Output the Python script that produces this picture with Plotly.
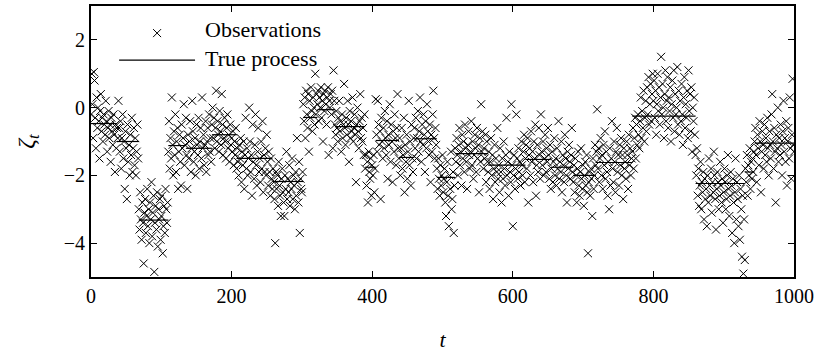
import numpy as np
import plotly.graph_objects as go

# Observed values, one per time step t = 0, 1, 2, ...
observations = [
    -0.2, 1.0, 0.1, -0.9, 1.05, 0.8, -0.3, -1.2, 0.3, -0.6, 0.0, -0.4, -1.5, -0.1, 0.4, -0.7, -0.3, -1.0, -0.2, -0.5,
    -0.8, 0.2, -0.4, -1.3, -0.6, -0.1, -0.9, -0.5, -1.6, -0.3, -0.7, -1.1, -0.2, -0.8, -1.9, -0.5, -1.2, -0.6, -0.9, 0.2,
    -0.6, -1.3, -0.4, -1.8, -0.9, -0.2, -1.5, -1.0, -2.4, -0.7, -1.2, -2.7, -0.5, -1.6, -1.1, -2.0, -0.8, -1.4, -0.3, -1.9,
    -1.2, -0.6, -1.7, -0.9, -2.0, -1.3, -0.5, -1.5, -3.0, -3.6, -2.5, -3.3, -3.9, -2.8, -3.4, -4.6, -3.1, -2.7, -3.7, -3.2,
    -2.4, -3.5, -3.0, -4.0, -2.8, -3.3, -2.2, -3.8, -3.1, -2.6, -4.85, -3.4, -2.9, -3.6, -2.5, -4.1, -3.0, -3.3, -2.7, -3.9,
    -3.2, -2.6, -4.3, -3.5, -2.9, -3.7, -2.4, -3.0, -3.4, -2.8, -1.3, -0.4, -1.8, -0.9, -1.5, 0.3, -1.1, -2.0, -0.7, -1.4,
    -0.2, -1.9, -1.0, -0.6, -2.4, -1.3, -0.8, -1.6, -2.3, -0.5, -1.2, -0.9, 0.1, -1.7, -1.1, -0.3, -1.4, -2.4, -0.8, -1.5,
    -1.0, -0.4, -1.9, -1.2, 0.2, -0.7, -1.6, -1.3, -0.9, -2.0, -0.5, -1.1, -1.4, -0.3, -1.8, -1.0, -0.6, -1.5, 0.3, -1.2,
    -0.8, -1.7, -1.1, -0.4, -1.9, -1.0, -0.6, -1.4, -0.2, -1.3, -0.9, -1.6, -0.5, 0.0, -0.9, -0.3, -1.2, -0.6, 0.5, -1.0,
    -0.4, -0.8, -1.3, -0.1, -0.7, -1.1, 0.4, -0.5, -1.4, -0.9, -0.3, -1.0, -1.5, -0.6, -0.2, -1.2, -0.8, -1.6, -0.5, -1.1,
    -0.9, -1.3, -0.7, -1.7, -1.0, -1.4, -0.6, -1.8, -1.2, -1.6, -2.0, -1.1, -1.5, -0.9, -2.2, -1.3, -1.7, -1.0, -2.4, -1.4,
    -0.3, -1.8, -1.2, -2.0, -1.5, 0.0, -1.0, -1.9, -1.4, -2.6, -0.5, -1.6, -2.1, -1.1, -0.2, -1.7, -2.3, -1.3, -0.6, -1.9,
    -1.5, -2.2, -1.0, -1.8, -0.4, -2.5, -1.4, -1.9, -1.2, -2.0, -0.8, -1.6, -2.3, -1.3, -1.9, -2.6, -1.5, -2.1, -2.4, -1.8,
    -2.2, -2.7, -4.0, -1.9, -2.4, -2.0, -2.9, -1.6, -2.3, -2.6, -3.2, -2.1, -1.8, -2.5, -2.8, -3.2, -2.0, -2.4, -1.3, -2.7,
    -2.1, -2.5, -1.7, -2.9, -2.2, -2.4, -1.5, -2.7, -2.0, -2.3, -3.0, -1.9, -2.6, -0.9, -2.2, -2.8, -1.6, -3.7, -2.1, -2.4,
    -2.5, -1.9, 0.1, -0.4, 0.3, -0.9, 0.5, -0.2, -0.6, 0.4, -1.3, 0.2, -0.3, 0.6, -0.1, -0.7, 0.3, 0.0, -0.5, 1.0,
    -0.2, 0.4, 0.1, 0.5, -0.4, 0.3, 0.0, 0.6, -0.3, 0.2, -1.0, 0.4, -0.1, 0.5, 0.1, -0.5, 0.3, 0.6, -1.4, 0.2,
    0.0, 0.4, -0.2, 0.5, -1.2, 1.1, 0.2, -0.5, -0.8, -0.1, -0.6, -1.0, -0.3, 0.2, -0.7, -0.4, -1.3, -0.2, -0.9, -0.5,
    0.7, -0.6, -1.1, -0.3, -0.8, 0.2, -0.5, -1.6, -0.1, -0.9, -0.4, -0.7, 0.3, -1.0, -0.6, -0.2, -0.8, -2.2, -0.5, 0.0,
    -0.7, -1.2, -0.4, 0.4, -0.9, -0.3, -1.0, -0.6, -1.4, -0.2, -1.8, -1.4, -2.3, -1.6, -2.8, -1.3, -1.9, -2.1, -1.5, -2.6,
    -1.7, -2.0, -1.4, -2.5, -1.8, 0.25, -0.8, -1.3, 0.2, -0.5, -1.1, -0.7, -2.7, -0.3, -1.0, -1.5, -0.6, -1.2, -0.1, -0.9,
    -1.4, -0.4, -2.1, -0.8, -1.1, 0.1, -1.6, -0.5, -1.0, -2.2, -0.7, -1.3, -0.2, -0.9, -1.7, -0.6, 0.4, -1.2, -1.5, -0.9,
    -2.0, -1.2, -0.6, -1.8, -1.4, -0.3, -2.5, -1.1, -1.6, -0.8, -2.1, -1.3, 0.2, -1.7, -1.0, -2.3, -0.5, -1.5, -1.9, -0.9,
    -0.6, -1.2, -0.3, -1.5, -0.9, -0.1, -1.3, -0.7, 0.3, -1.0, -1.6, -0.5, -1.1, -0.2, -0.8, -1.9, -0.4, -1.2, 0.1, -0.7,
    -1.0, -1.4, -0.5, -2.2, -0.8, -1.3, -0.2, 0.5, -0.9, -1.5, -0.6, -1.1, -1.8, -2.4, -1.5, -2.1, -2.6, -1.7, -2.3, -2.0,
    -1.4, -2.5, -2.1, -1.8, -2.8, -3.2, -2.2, -1.6, -2.6, -3.5, -2.0, -2.4, -1.3, -3.0, -2.7, -1.9, -3.7, -2.3, -1.2, -1.6,
    -0.9, -1.4, -2.0, -1.1, -0.6, -1.7, -1.3, -2.3, -0.8, -1.5, -1.0, -1.9, -0.5, -1.2, -1.6, -2.4, -1.1, -0.7, -1.4, -1.8,
    -1.3, -0.4, -1.7, -1.0, -2.1, -1.4, -0.8, -1.2, -1.9, -0.6, -1.5, -1.1, -2.5, -0.9, -1.6, 0.1, -1.3, -0.7, -1.8, -1.2,
    -1.5, -0.8, -2.2, -1.0, -1.6, -1.9, -1.3, -2.4, -1.6, -0.9, -2.0, -1.4, -2.7, -1.8, -1.1, -2.2, -1.5, -1.9, -0.6, -2.1,
    -1.7, -2.5, -1.2, -1.9, -2.8, -1.5, -2.1, -1.0, -1.8, -2.3, -1.4, -0.3, -2.0, -1.6, -2.6, -1.3, -1.9, -2.2, 0.1, -1.7,
    -3.5, -2.0, -1.4, -2.4, -1.8, -0.2, -1.5, -2.1, -1.2, -1.9, -1.6, -2.3, -1.0, -1.7, -2.0, -1.3, -0.8, -2.2, -1.5, -1.1,
    -1.8, -0.9, -2.8, -1.4, -1.2, -2.0, -0.7, -1.6, -1.3, -2.2, -1.0, -1.5, -0.5, -2.6, -1.7, -1.1, -1.9, -0.6, -1.4, -2.1,
    -0.2, -1.3, -1.7, -1.0, -2.0, -1.5, -0.8, -1.9, -1.2, -1.6, -0.6, -1.4, -2.1, -1.1, -2.4, -1.8, -1.3, -2.2, -1.6, -0.9,
    -2.0, -1.5, -2.3, -1.2, -1.8, -0.4, -2.1, -1.6, -1.9, -1.0, -2.5, -1.4, -1.7, -2.2, -0.8, -1.5, -2.0, -2.8, -1.3, -1.8,
    -1.1, -1.6, -2.1, -1.4, -0.6, -1.9, -2.2, -1.7, -2.5, -1.5, -2.0, -2.8, -1.8, -1.3, -2.3, -2.6, -1.9, -1.2, -2.1, -2.4,
    -1.7, -2.9, -2.0, -1.6, -2.3, -1.4, -2.5, -4.3, -2.2, -1.9, -2.6, -1.8, -2.1, -3.2, -1.5, -2.4, -2.0, -1.1, -1.7, -1.3,
    -0.05, -1.8, -1.2, -2.2, -1.5, -0.9, -2.0, -1.4, -2.4, -1.1, -1.7, -0.7, -2.1, -1.3, -1.9, -2.6, -1.6, -3.0, -1.2, -2.3,
    -1.5, -0.4, -1.8, -2.2, -1.0, -1.6, -2.5, -1.3, -0.6, -1.9, -1.4, -2.3, -1.1, -1.7, -0.9, -2.0, -1.4, -2.7, -1.2, -1.8,
    -1.6, -2.1, -1.0, -1.4, -2.4, -0.8, -1.7, -1.2, -2.0, -1.5, -1.3, -0.6, -1.8, -0.9, -0.3, -1.5, -0.5, -1.1, -0.2, -0.8,
    -1.2, -0.4, 0.3, -0.9, -0.1, -0.6, 0.5, -1.0, -0.3, 0.2, -0.7, 0.6, -0.2, 0.9, -0.5, 0.1, 0.7, -0.4, 0.4, 1.0,
    0.2, 0.8, -0.3, 0.5, -0.8, 0.1, 1.0, -0.1, 0.6, -0.5, 0.3, 1.5, -0.2, 0.7, 0.0, -0.9, 0.4, 1.1, -0.4, 0.2,
    0.9, -0.6, 0.3, -0.1, 0.6, -1.0, 0.1, 0.8, -0.3, 1.1, -0.7, 0.4, -0.2, 0.0, 1.2, -0.5, 0.5, -0.8, 0.2, -0.4,
    0.7, -0.2, -1.1, 0.3, 0.9, -0.6, 0.1, -0.3, 0.5, -0.9, 1.1, -0.1, 0.4, -0.7, 0.6, -1.3, 0.0, -0.4, 0.3, -0.8,
    -1.4, -2.0, -1.2, -2.6, -1.8, -2.9, -2.3, -1.6, -3.0, -2.2, -2.5, -1.9, -3.3, -2.1, -2.7, -2.4, -3.5, -2.0, -2.8, -1.5,
    -2.3, -2.6, -1.8, -3.1, -2.2, -2.5, -1.3, -2.0, -2.7, -3.6, -2.4, -1.9, -2.2, -3.0, -2.6, -1.6, -2.3, -2.8, -2.1, -3.4,
    -2.5, -1.8, -2.2, -3.0, -2.7, -2.0, -1.4, -2.4, -3.2, -2.6, -1.9, -2.3, -3.7, -2.1, -2.8, -4.0, -2.5, -1.5, -3.3, -2.2,
    -2.7, -3.5, -2.0, -3.9, -2.4, -3.0, -4.4, -2.6, -4.9, -3.3, -4.5, -1.8, -2.2, -1.4, -2.6, -1.7, -2.0, -1.2, -2.4, -1.6,
    -2.1, -1.5, -1.9, -1.3, -1.0, -0.6, -1.4, -2.2, -0.8, -1.2, -1.7, -0.4, -1.0, -2.5, -1.3, -0.7, -1.1, -1.8, -0.5, -1.4,
    -0.9, -1.6, -0.3, -1.2, -2.0, -0.7, -1.1, -1.5, -0.2, 0.4, -1.0, -1.8, -0.6, -1.3, -2.8, -0.8, -1.2, 0.0, -1.6, -0.9,
    -1.4, -0.5, -1.1, -2.0, -0.7, 0.2, -1.3, -0.9, -1.6, -0.4, -2.3, -1.0, -0.6, -1.5, 0.3, -1.2, -2.1, -0.8, 0.85, -1.1,
    -1.3,
]
t_obs = np.arange(len(observations))

# Piecewise-constant true process: start, end and level of each regime
seg_start = [0, 37, 68, 110, 135, 172, 207, 258, 302, 322, 347, 390, 405, 438, 460, 492, 518, 565, 618, 654, 686, 718, 770, 860, 930, 944]
seg_end = [37, 68, 110, 135, 172, 207, 258, 302, 322, 347, 390, 405, 438, 460, 492, 518, 565, 618, 654, 686, 718, 770, 860, 930, 944, 1000]
seg_level = [-0.47, -1.0, -3.32, -1.12, -1.2, -0.8, -1.5, -2.18, -0.29, -0.06, -0.56, -1.76, -0.97, -1.47, -0.92, -2.06, -1.36, -1.7, -1.53, -1.76, -2.0, -1.62, -0.25, -2.24, -1.9, -1.05]

x_ticks = [0, 200, 400, 600, 800, 1000]
y_ticks = [-4, -2, 0, 2]

# Horizontal pieces separated by gaps (no vertical jumps drawn)
proc_x, proc_y = [], []
for a, b, v in zip(seg_start, seg_end, seg_level):
    proc_x += [a, b, None]
    proc_y += [v, v, None]

FONT = "Liberation Serif, Times New Roman, serif"
CROSS = dict(symbol="x-thin-open", size=8, line=dict(color="black", width=1), color="black")

fig = go.Figure()
fig.add_trace(go.Scatter(
    x=t_obs, y=observations, mode="markers", marker=CROSS,
    showlegend=False, hoverinfo="skip",
))
fig.add_trace(go.Scatter(
    x=proc_x, y=proc_y, mode="lines",
    line=dict(color="black", width=1.2),
    showlegend=False, hoverinfo="skip",
))

# Key in the upper-left corner: symbol column plus a two-line label
fig.add_trace(go.Scatter(
    x=[0.094], y=[0.9], mode="markers", xaxis="x2", yaxis="y2", marker=CROSS,
    showlegend=False, hoverinfo="skip",
))
fig.add_shape(type="line", xref="paper", yref="paper", x0=0.040, x1=0.148, y0=0.8, y1=0.8,
              line=dict(color="black", width=1.2))
fig.add_annotation(x=0.159, y=0.965, xref="paper", yref="paper",
                   text="Observations<br>True process", align="left",
                   showarrow=False, xanchor="left", yanchor="top",
                   font=dict(family=FONT, size=22, color="black"))

axis_common = dict(
    showgrid=False, zeroline=False, showline=True, linecolor="black", linewidth=2,
    mirror="allticks", ticks="inside", ticklen=6, tickwidth=1, tickcolor="black",
    tickfont=dict(family=FONT, size=20, color="black"),
)

fig.update_layout(
    width=821, height=356,
    margin=dict(l=91, r=27, t=4, b=79),
    paper_bgcolor="white", plot_bgcolor="white",
    xaxis=dict(range=[0, 1000], tickvals=x_ticks, ticktext=[str(v) for v in x_ticks],
               title=dict(text="<i>t</i>", font=dict(family=FONT, size=22, color="black"), standoff=26),
               **axis_common),
    yaxis=dict(range=[-5, 3], tickvals=y_ticks, ticktext=[("\u2212" if v < 0 else "") + str(abs(v)) for v in y_ticks],
               title=dict(text="<i>\u03b6<sub>t</sub></i>", font=dict(family=FONT, size=24, color="black"), standoff=22),
               **axis_common),
    xaxis2=dict(range=[0, 1], overlaying="x", visible=False, fixedrange=True),
    yaxis2=dict(range=[0, 1], overlaying="y", visible=False, fixedrange=True),
    showlegend=False,
)

fig.write_html("out.html")
